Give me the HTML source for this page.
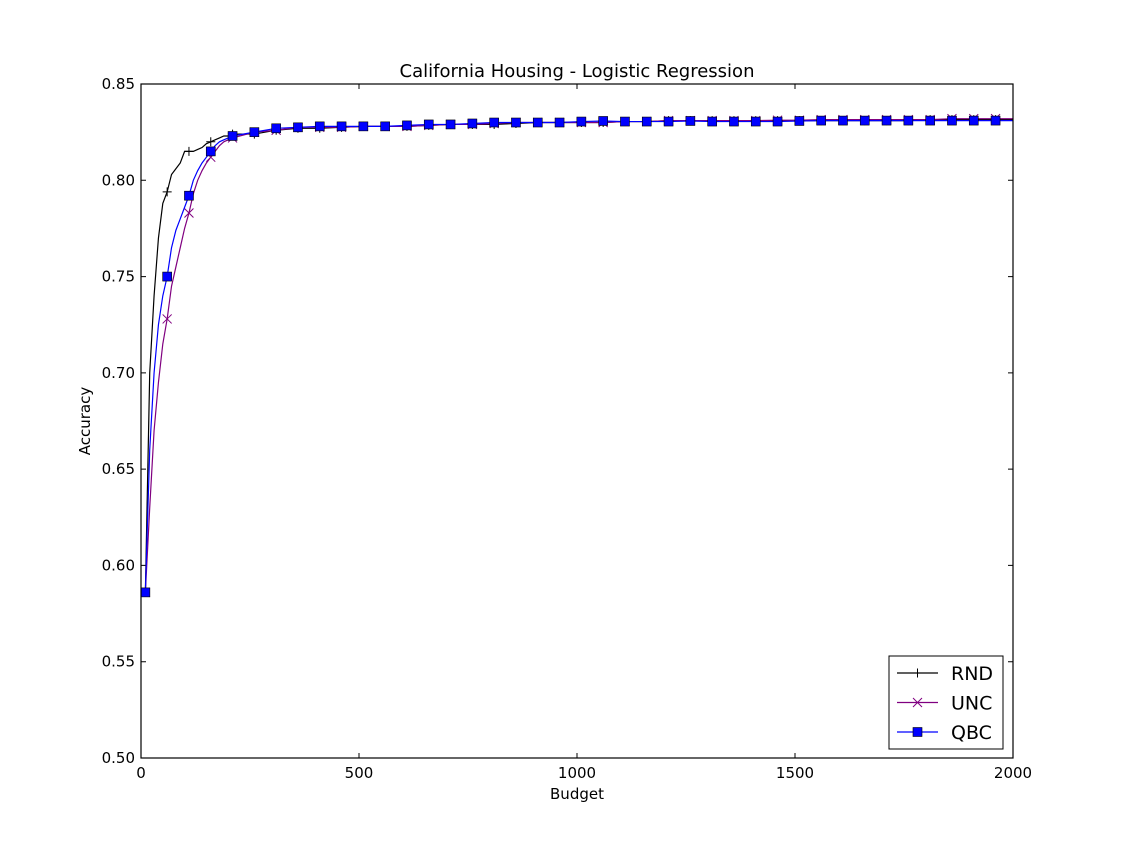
<!DOCTYPE html>
<html><head><meta charset="utf-8"><style>
body{margin:0;background:#fff;}
svg{display:block;font-family:"DejaVu Sans","Liberation Sans",sans-serif;}
</style></head><body>
<svg id="chart" width="1125" height="843">
<rect width="1125" height="843" fill="#fff"/>
<g id="ticks"></g>
<g id="series"></g>
<rect x="141" y="84" width="872" height="674" fill="none" stroke="#000" stroke-width="1.2"/>
<text x="577" y="77" text-anchor="middle" font-size="18">California Housing - Logistic Regression</text>
<text x="577" y="799" text-anchor="middle" font-size="15">Budget</text>
<text x="90" y="421" text-anchor="middle" font-size="15" transform="rotate(-90 90 421)">Accuracy</text>
<g>
<rect x="889" y="656" width="114" height="93" fill="#fff" stroke="#000" stroke-width="1"/>
<g id="legend"></g>
</g>
</svg>
<script>
const xTicks=[0,500,1000,1500,2000];
const yTicks=[0.50,0.55,0.60,0.65,0.70,0.75,0.80,0.85];
const budget=[10,20,30,40,50,60,70,80,90,100,110,120,130,140,150,160,170,180,190,200,210,260,310,360,410,460,510,560,610,660,710,760,810,860,910,960,1010,1060,1110,1160,1210,1260,1310,1360,1410,1460,1510,1560,1610,1660,1710,1760,1810,1860,1910,1960,2000];
const rnd=[0.586,0.70,0.74,0.77,0.788,0.794,0.803,0.806,0.809,0.815,0.815,0.815,0.816,0.817,0.819,0.820,0.821,0.822,0.823,0.823,0.824,0.824,0.826,0.827,0.827,0.8275,0.828,0.828,0.828,0.8285,0.829,0.829,0.829,0.8295,0.830,0.830,0.830,0.830,0.8305,0.8305,0.831,0.831,0.831,0.831,0.831,0.831,0.831,0.831,0.831,0.831,0.831,0.831,0.8315,0.8315,0.8315,0.8315,0.8315];
const unc=[0.586,0.63,0.67,0.695,0.715,0.728,0.745,0.755,0.765,0.775,0.783,0.793,0.80,0.805,0.809,0.812,0.815,0.818,0.820,0.821,0.822,0.825,0.826,0.8275,0.8275,0.8275,0.828,0.828,0.828,0.8285,0.829,0.829,0.8295,0.830,0.830,0.830,0.830,0.8300,0.8305,0.8305,0.831,0.831,0.831,0.831,0.831,0.8312,0.8312,0.8315,0.8315,0.8315,0.8315,0.8315,0.8315,0.832,0.832,0.832,0.832];
const qbc=[0.586,0.66,0.70,0.725,0.74,0.75,0.765,0.774,0.78,0.786,0.792,0.80,0.805,0.809,0.812,0.815,0.818,0.820,0.821,0.822,0.823,0.825,0.827,0.8275,0.828,0.828,0.828,0.828,0.8285,0.829,0.829,0.8295,0.830,0.830,0.830,0.830,0.8305,0.8308,0.8305,0.8305,0.8305,0.8308,0.8305,0.8305,0.8305,0.8305,0.8308,0.831,0.831,0.831,0.831,0.831,0.831,0.831,0.831,0.831,0.831];
const NS='http://www.w3.org/2000/svg';
function X(v){return 141+v/2000*872;}
function Y(v){return 758-(v-0.5)/0.35*674;}
function mk(tag,attrs,parent){const e=document.createElementNS(NS,tag);for(const k in attrs)e.setAttribute(k,attrs[k]);parent.appendChild(e);return e;}
const tg=document.getElementById('ticks');
xTicks.forEach(t=>{
  const l=mk('path',{d:`M${X(t)},758v-5M${X(t)},84v5`,stroke:'#000','stroke-width':1},tg);
  
  
  const tx=mk('text',{x:X(t),y:778,'text-anchor':'middle','font-size':15},tg);tx.textContent=t;
  
  
});
yTicks.forEach(t=>{
  const l=mk('path',{d:`M141,${Y(t)}h5M1013,${Y(t)}h-5`,stroke:'#000','stroke-width':1},tg);
  
  
  const tx=mk('text',{x:135,y:Y(t)+5,'text-anchor':'end','font-size':15},tg);tx.textContent=t.toFixed(2);
  
  
});
function marker(kind,x,y,color,g){
  let e;
  if(kind==='plus') e=mk('path',{d:`M${x-4.5},${y}h9M${x},${y-4.5}v9`,stroke:color,'stroke-width':1},g);
  else if(kind==='x') e=mk('path',{d:`M${x-4.5},${y-4.5}l9,9M${x-4.5},${y+4.5}l9,-9`,stroke:color,'stroke-width':1},g);
  else e=mk('rect',{x:x-4.5,y:y-4.5,width:9,height:9,fill:color,stroke:'#000','stroke-width':0.6},g);
  return e;
}
const sg=document.getElementById('series');
const series=[{n:'rnd',d:rnd,c:'#000',m:'plus',l:'RND'},{n:'unc',d:unc,c:'#800080',m:'x',l:'UNC'},{n:'qbc',d:qbc,c:'#0000ff',m:'square',l:'QBC'}];
series.forEach(s=>{
  const g=mk('g',{},sg);
  
  
  const p=mk('polyline',{points:budget.map((b,i)=>X(b)+','+Y(s.d[i])).join(' '),fill:'none',stroke:s.c,'stroke-width':1.2},g);
  
  
  budget.forEach((b,i)=>{
    if((b-10)%50===0){
      const m=marker(s.m,X(b),Y(s.d[i]),s.c,g);
      
      
    }
  });
});
const lg=document.getElementById('legend');
series.forEach((s,i)=>{
  const y=673+i*29.5;
  const g=mk('g',{},lg);
  
  
  mk('line',{x1:897,x2:938,y1:y,y2:y,stroke:s.c,'stroke-width':1.2},g);
  marker(s.m,917.5,y,s.c,g);
  const t=mk('text',{x:951,y:y+7,'font-size':19},g);t.textContent=s.l;
});
</script>
</body></html>
